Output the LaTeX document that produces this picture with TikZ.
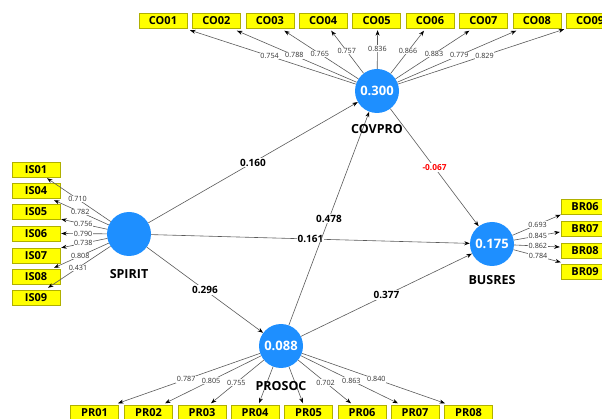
\documentclass[tikz,border=0pt]{standalone}
\usepackage{fontspec}
\setmainfont{Open Sans}
\usetikzlibrary{arrows.meta,positioning}
\definecolor{LVblue}{HTML}{1E8FFF}
\definecolor{MVyellow}{HTML}{FFFF00}
\definecolor{MVborder}{HTML}{B0B000}
\definecolor{PathGray}{HTML}{5A5A5A}

\begin{document}
\begin{tikzpicture}[x=1pt,y=-1pt]
		\tikzset{LatentStyle/.style={circle,fill=LVblue,minimum size=44pt,inner sep=0pt,text=white,font=\fontsize{13}{13}\selectfont\bfseries}}
		\tikzset{NameStyle/.style={inner sep=0pt,font=\fontsize{12.5}{12.5}\selectfont\bfseries}}
		\tikzset{ItemStyle/.style={draw=MVborder,fill=MVyellow,minimum width=48pt,minimum height=15pt,inner sep=0pt,font=\fontsize{11}{11}\selectfont\bfseries}}
		\tikzset{EdgeStyle/.style={draw=PathGray,line width=0.6pt,-{Stealth[length=5.5pt,width=4pt,color=black]}}}
		\tikzset{LoadStyle/.style={pos=0.52,fill=white,inner sep=0.6pt,text=black!80,font=\fontsize{7.2}{7.2}\selectfont}}
		\tikzset{CoefStyle/.style={midway,fill=white,inner sep=1pt,font=\fontsize{10}{10}\selectfont\bfseries}}
		\clip (0,0) rectangle (602,419);
		% latent variables
		\node[LatentStyle] (COVPRO) at (377,91) {0.300};
		\node[LatentStyle] (SPIRIT) at (129,234) {};
		\node[LatentStyle] (BUSRES) at (492,244) {0.175};
		\node[LatentStyle] (PROSOC) at (281,346) {0.088};
		% indicators of COVPRO
		\node[ItemStyle] (CO01) at (163,20.5) {CO01};
		\node[ItemStyle] (CO02) at (216.4,20.5) {CO02};
		\node[ItemStyle] (CO03) at (269.8,20.5) {CO03};
		\node[ItemStyle] (CO04) at (323.2,20.5) {CO04};
		\node[ItemStyle] (CO05) at (376.6,20.5) {CO05};
		\node[ItemStyle] (CO06) at (430,20.5) {CO06};
		\node[ItemStyle] (CO07) at (483.4,20.5) {CO07};
		\node[ItemStyle] (CO08) at (536.8,20.5) {CO08};
		\node[ItemStyle] (CO09) at (590.2,20.5) {CO09};
		% indicators of SPIRIT
		\node[ItemStyle] (IS01) at (36,169.5) {IS01};
		\node[ItemStyle] (IS04) at (36,190.5) {IS04};
		\node[ItemStyle] (IS05) at (36,211.5) {IS05};
		\node[ItemStyle] (IS06) at (36,233.5) {IS06};
		\node[ItemStyle] (IS07) at (36,255.5) {IS07};
		\node[ItemStyle] (IS08) at (36,276.5) {IS08};
		\node[ItemStyle] (IS09) at (36,297.5) {IS09};
		% indicators of BUSRES
		\node[ItemStyle] (BR06) at (585,207) {BR06};
		\node[ItemStyle] (BR07) at (585,229) {BR07};
		\node[ItemStyle] (BR08) at (585,250.5) {BR08};
		\node[ItemStyle] (BR09) at (585,272) {BR09};
		% indicators of PROSOC
		\node[ItemStyle] (PR01) at (94.5,412.5) {PR01};
		\node[ItemStyle] (PR02) at (148.5,412.5) {PR02};
		\node[ItemStyle] (PR03) at (202,412.5) {PR03};
		\node[ItemStyle] (PR04) at (255,412.5) {PR04};
		\node[ItemStyle] (PR05) at (308.5,412.5) {PR05};
		\node[ItemStyle] (PR06) at (362,412.5) {PR06};
		\node[ItemStyle] (PR07) at (415,412.5) {PR07};
		\node[ItemStyle] (PR08) at (468.5,412.5) {PR08};
		% outer loadings
		\draw[EdgeStyle] (COVPRO) -- ([xshift=27pt,yshift=-2pt]CO01.south) node[LoadStyle]{0.754};
		\draw[EdgeStyle] (COVPRO) -- ([xshift=20.5pt,yshift=-2.5pt]CO02.south) node[LoadStyle]{0.788};
		\draw[EdgeStyle] (COVPRO) -- ([xshift=14.5pt,yshift=-2.5pt]CO03.south) node[LoadStyle]{0.765};
		\draw[EdgeStyle] (COVPRO) -- ([xshift=8pt,yshift=-2.5pt]CO04.south) node[LoadStyle]{0.757};
		\draw[EdgeStyle] (COVPRO) -- ([xshift=1pt,yshift=-2pt]CO05.south) node[LoadStyle]{0.836};
		\draw[EdgeStyle] (COVPRO) -- ([xshift=-6pt,yshift=-2.5pt]CO06.south) node[LoadStyle]{0.866};
		\draw[EdgeStyle] (COVPRO) -- ([xshift=-14pt,yshift=-2.5pt]CO07.south) node[LoadStyle]{0.883};
		\draw[EdgeStyle] (COVPRO) -- ([xshift=-20.5pt,yshift=-2.5pt]CO08.south) node[LoadStyle]{0.779};
		\draw[EdgeStyle] (COVPRO) -- ([xshift=-26pt,yshift=-1pt]CO09.south) node[LoadStyle]{0.829};
		\draw[EdgeStyle] (SPIRIT) -- ([xshift=11pt,yshift=-1pt]IS01.south) node[LoadStyle]{0.710};
		\draw[EdgeStyle] (SPIRIT) -- ([xshift=18pt,yshift=-2pt]IS04.south) node[LoadStyle]{0.782};
		\draw[EdgeStyle] (SPIRIT) -- ([xshift=1pt]IS05.south east) node[LoadStyle]{0.756};
		\draw[EdgeStyle] (SPIRIT) -- ([xshift=1pt]IS06.east) node[LoadStyle]{0.790};
		\draw[EdgeStyle] (SPIRIT) -- ([xshift=1pt]IS07.north east) node[LoadStyle]{0.738};
		\draw[EdgeStyle] (SPIRIT) -- ([xshift=18pt,yshift=1pt]IS08.north) node[LoadStyle]{0.808};
		\draw[EdgeStyle] (SPIRIT) -- ([xshift=12pt,yshift=2pt]IS09.north) node[LoadStyle]{0.431};
		\draw[EdgeStyle] (BUSRES) -- (BR06.south west) node[LoadStyle]{0.693};
		\draw[EdgeStyle] (BUSRES) -- ([xshift=-1pt,yshift=-3pt]BR07.west) node[LoadStyle]{0.845};
		\draw[EdgeStyle] (BUSRES) -- ([xshift=-1pt,yshift=3.5pt]BR08.west) node[LoadStyle]{0.862};
		\draw[EdgeStyle] (BUSRES) -- ([yshift=2pt]BR09.north west) node[LoadStyle]{0.784};
		\draw[EdgeStyle] (PROSOC) -- ([xshift=23.5pt,yshift=1.5pt]PR01.north) node[LoadStyle]{0.787};
		\draw[EdgeStyle] (PROSOC) -- ([xshift=16.5pt,yshift=1.5pt]PR02.north) node[LoadStyle]{0.805};
		\draw[EdgeStyle] (PROSOC) -- ([xshift=9pt,yshift=1.5pt]PR03.north) node[LoadStyle]{0.755};
		\draw[EdgeStyle] (PROSOC) -- ([xshift=4pt,yshift=1.5pt]PR04.north);
		\draw[EdgeStyle] (PROSOC) -- ([xshift=-5.5pt,yshift=1.5pt]PR05.north);
		\draw[EdgeStyle] (PROSOC) -- ([xshift=-11pt,yshift=1.5pt]PR06.north) node[LoadStyle]{0.702};
		\draw[EdgeStyle] (PROSOC) -- ([xshift=-17pt,yshift=1.5pt]PR07.north) node[LoadStyle]{0.863};
		\draw[EdgeStyle] (PROSOC) -- ([xshift=-23.5pt,yshift=1.5pt]PR08.north) node[LoadStyle]{0.840};
		% path coefficients
		\draw[EdgeStyle] (SPIRIT) -- (BUSRES) node[CoefStyle]{0.161};
		\draw[EdgeStyle] (SPIRIT) -- (COVPRO) node[CoefStyle]{0.160};
		\draw[EdgeStyle] (PROSOC) -- (COVPRO) node[CoefStyle]{0.478};
		\draw[EdgeStyle] (COVPRO) -- (BUSRES) node[CoefStyle,text=red,font=\fontsize{8.3}{8.3}\selectfont\bfseries]{-0.067};
		\draw[EdgeStyle] (SPIRIT) -- (PROSOC) node[CoefStyle]{0.296};
		\draw[EdgeStyle] (PROSOC) -- (BUSRES) node[CoefStyle]{0.377};
		% construct names
		\node[NameStyle,below=11pt of COVPRO] (COVPROname) {COVPRO};
		\node[NameStyle,below=13.5pt of SPIRIT] (SPIRITname) {SPIRIT};
		\node[NameStyle,below=9pt of BUSRES] (BUSRESname) {BUSRES};
		\node[NameStyle,below=13pt of PROSOC] (PROSOCname) {PROSOC};
	\end{tikzpicture}
\end{document}
